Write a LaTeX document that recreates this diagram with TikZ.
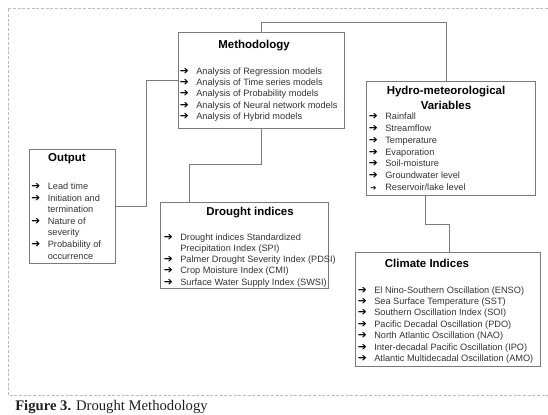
\documentclass[tikz,border=0pt]{standalone}
\usepackage{fontspec}
\setmainfont{Liberation Sans}
\newfontfamily\capfont{Liberation Serif}
\newfontfamily\arrfont{DejaVu Sans}
\usetikzlibrary{calc}
\definecolor{boxgray}{HTML}{7A7A7A}
\definecolor{framegray}{HTML}{BDBDBD}
\definecolor{itemgray}{HTML}{333333}
\newcommand\arr{\makebox[12.4pt][l]{\color{black}\arrfont\fontsize{8}{8}\selectfont ➔}}
\newcommand\sarr{\makebox[12.4pt][l]{\hspace{1.2pt}\color{black}\arrfont\fontsize{5.5}{5.5}\selectfont ➔}}
\begin{document}
\begin{tikzpicture}[x=0.75pt,y=-0.75pt,
  boxst/.style={draw=boxgray, line width=0.75pt, inner sep=0pt, fill=white},
  conn/.style={draw=boxgray, line width=0.75pt},
  frame/.style={draw=framegray, line width=0.6pt, dash pattern=on 2.2pt off 1.3pt},
  titlest/.style={inner sep=0pt, text=black, font=\bfseries\fontsize{8.6}{11.25}\selectfont},
  listst/.style={inner sep=0pt, anchor=base west, text=itemgray, font=\fontsize{6.9}{#1}\selectfont},
  listst/.default={8.7}]
\useasboundingbox (0,0) rectangle (548,414);
% frame
\draw[frame] (548,8) -- (8,8) -- (8,395) -- (548,395);
% boxes
\node[boxst, minimum width=124.5pt, minimum height=72pt] (meth) at (261,80) {};
\node[boxst, minimum width=126.75pt, minimum height=85.5pt] (hydro) at (450.5,138) {};
\node[boxst, minimum width=64.5pt, minimum height=85.5pt] (out) at (72,206) {};
\node[boxst, minimum width=126pt, minimum height=64.5pt] (drought) at (244,245) {};
\node[boxst, minimum width=138.75pt, minimum height=85.5pt] (climate) at (447.5,309) {};
% connectors
\draw[conn] (out.east) -| ($(out.east)!.5!(meth.west)$) |- (meth.west);
\draw[conn] (meth.north) -- ++(0,-9) -| ($(hydro.north)+(-4.5,0)$);
\draw[conn] (meth.south) -- ++(0,36) -| ($(drought.north west)+(30,0)$);
\draw[conn] ($(hydro.south west)+(60,0)$) -- ++(0,29) -| ($(climate.north)+(1.5,0)$);
% titles
\node[titlest] (methT) at (254,45.5) {Methodology};
\node[titlest, align=center] (hydroT) at (446,97.5) {Hydro-meteorological\\Variables};
\node[titlest] (outT) at (67,158.5) {Output};
\node[titlest] (droughtT) at (250,212.5) {Drought indices};
\node[titlest] (climateT) at (427,263.5) {Climate Indices};
% lists
\node[listst=8.55] (methL) at (179.5,74) {\begin{tabular}[t]{@{}l@{}l@{}}
\arr & Analysis of Regression models\\
\arr & Analysis of Time series models\\
\arr & Analysis of Probability models\\
\arr & Analysis of Neural network models\\
\arr & Analysis of Hybrid models
\end{tabular}};
\node[listst=8.9] (hydroL) at (368.5,119.5) {\begin{tabular}[t]{@{}l@{}l@{}}
\arr & Rainfall\\
\arr & Streamflow\\
\arr & Temperature\\
\arr & Evaporation\\
\arr & Soil-moisture\\
\arr & Groundwater level\\
\sarr & Reservoir/lake level
\end{tabular}};
\node[listst=8.7] (outL) at (31,189.5) {\begin{tabular}[t]{@{}l@{}l@{}}
\arr & Lead time\\
\arr & Initiation and\\
 & termination\\
\arr & Nature of\\
 & severity\\
\arr & Probability of\\
 & occurrence
\end{tabular}};
\node[listst=8.45] (droughtL) at (163.5,240) {\begin{tabular}[t]{@{}l@{}l@{}}
\arr & Drought indices Standardized\\
 & Precipitation Index (SPI)\\
\arr & Palmer Drought Severity Index (PDSI)\\
\arr & Crop Moisture Index (CMI)\\
\arr & Surface Water Supply Index (SWSI)
\end{tabular}};
\node[listst=8.55] (climateL) at (357.5,293) {\begin{tabular}[t]{@{}l@{}l@{}}
\arr & El Nino-Southern Oscillation (ENSO)\\
\arr & Sea Surface Temperature (SST)\\
\arr & Southern Oscillation Index (SOI)\\
\arr & Pacific Decadal Oscillation (PDO)\\
\arr & North Atlantic Oscillation (NAO)\\
\arr & Inter-decadal Pacific Oscillation (IPO)\\
\arr & Atlantic Multidecadal Oscillation (AMO)
\end{tabular}};
% caption
\node[anchor=base west, inner sep=0pt, text=black!88, font=\capfont\fontsize{11}{13}\selectfont] (cap) at (15,410.5) {\textbf{Figure 3.} Drought Methodology};
\end{tikzpicture}
\end{document}
